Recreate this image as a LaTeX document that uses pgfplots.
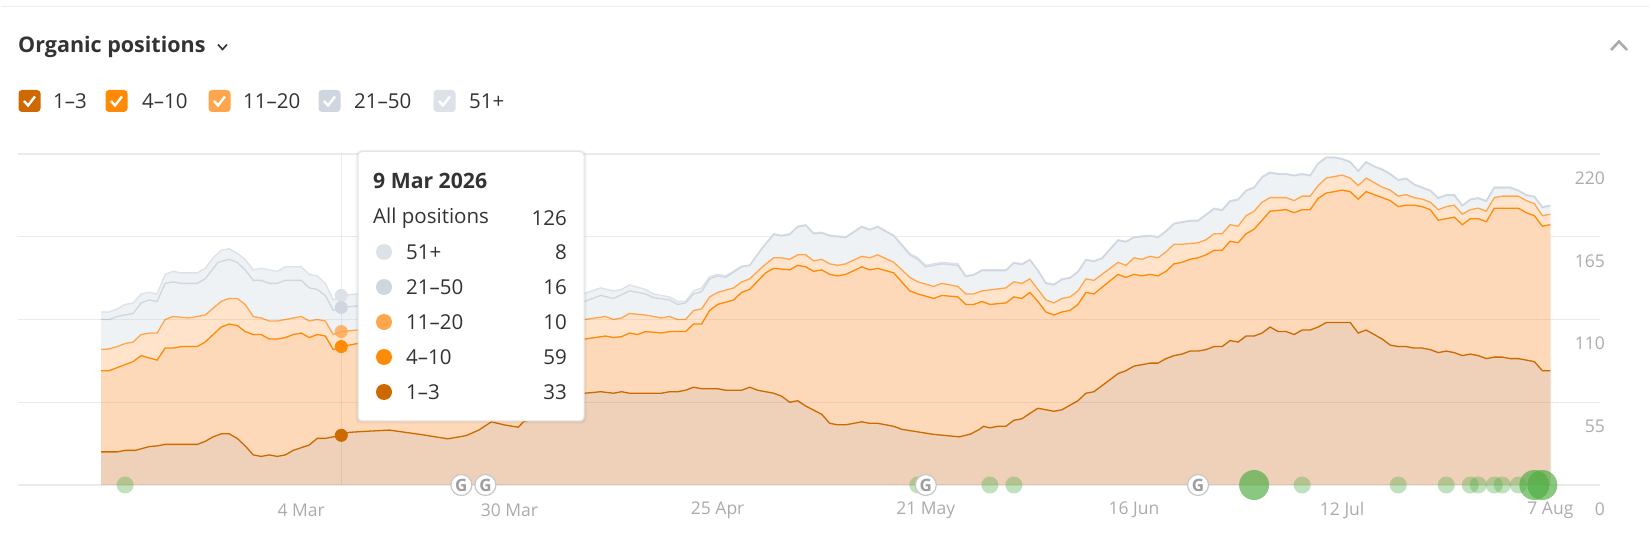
\documentclass[border=0pt]{standalone}
\usepackage{fontspec}
\setmainfont{Open Sans}
\usepackage{pgfplots}
\usepackage{pgfplotstable}
\pgfplotsset{compat=1.18}
\newcommand{\fs}[1]{\fontsize{#1pt}{#1pt}\selectfont}
\definecolor{txt}{HTML}{333333}
\definecolor{tick}{HTML}{ABABAB}
\definecolor{cD}{HTML}{CC6A00}
\definecolor{cM}{HTML}{FF8A05}
\definecolor{cO}{HTML}{FFA64D}
\definecolor{cS}{HTML}{CFD6DF}
\definecolor{cT}{HTML}{DDE1E8}
\definecolor{fT}{HTML}{EEF2F4}
\definecolor{fO}{HTML}{FFE4CB}
\definecolor{fM}{HTML}{FED9B9}
\definecolor{fD}{HTML}{EFD0B9}
\definecolor{gn}{HTML}{4FAE45}
\pgfplotstableread{
day v
0 115
1 115
2 117
3 120
4 121
5 127
6 128
7 127
8 140
9 142
10 141
12 141
13 144
14 151
15 156
16 157
17 154
18 150
19 143
20 144
22 142
23 145
25 145
26 140
27 139
28 134
29 123
30 126
32 127
40 128
50 129
60.4 127.4
62.4 131
64 129
65 130
66 133
68 130
69 127
71 125
72 122
73 122
74 129
75 131
76 138.5
77 140
78 139
80 145.5
81 146
82.6 158
84 167
85 166
86 167
87 172
88 173
89 167.5
90 168
91 166
93 165
95 172
96 170
97 172
99 166
101 154
102 151
103 146
105 148
107 147
108 139
109 140
110 143
113 143
114 148
115 147
116 150
117 143
118 134.5
119 133.5
120 137
121 138
122 142
123 150
124 149
125 151
127 163
128 162
129 165
131 166
132 165
133 169
134 174
135 175
136 176
137 176
138 180
139 184
140 183
141 189
142 190
143 196
144 198
145 205
146 208
147 207
148 207
149 206
150 207
151 206
152 214
153 218
154 218
155 217
156 215
157 209
158 215
159 212
160 210
161 207
162 203
163 204
164 200
165 198
166 196
167 191
168 193
169 193
170 186
171 190
172 191
173 189
174 198
176 198
177 196
178 193
179 192
180 185
181 186
}\tT
\pgfplotstableread{
day v
0 110
1 110
2 112
4 114
5 121
6 123
7 122
8 134
9 135
10 134
12 134
13 137
14.6 148
16 150
17 148
18 143
19 136
20 136
21 134
22 134
23 136
25 136
26 131
27 130
28 126
29 116
30 118
32 119
45 121
60.4 122
62.4 126
64 124
66 129
68 127
69 124.5
71 123
72 120
73 121
74 127
75 128.5
76 137
77 139
78 138
80 145
81 146
82.6 157.5
84 166.5
85 165.5
86 166.5
87 171.5
88 172.5
89 167
90 167.5
91 165.5
93 164.5
95 171.5
96 169.5
97 171.5
99 165.5
101 153
102 150
103 145
105 147
107 146
108 138.5
109 139.5
110 142.5
113 142.5
114 147.5
115 146.5
116 149.5
117 142.5
118 134
119 133
120 136.5
121 137.5
122 141.5
123 149.5
124 148.5
125 150.5
127 162.5
128 161.5
129 164.5
131 165.5
132 164.5
133 168.5
134 173.5
135 174.5
136 175.5
137 175.5
138 179.5
139 183.5
140 182.5
141 188.5
142 189.5
143 195.5
144 197.5
145 204.5
146 207.5
147 206.5
148 206.5
149 205.5
150 206.5
151 205.5
152 213.5
153 217.5
154 217.5
155 216.5
156 214.5
157 208.5
158 214.5
159 211.5
160 209.5
161 206.5
162 202.5
163 203.5
164 199.5
165 197.5
166 195.5
167 190.5
168 192.5
169 192.5
170 185.5
171 189.5
172 190.5
173 188.5
174 197.5
176 197.5
177 195.5
178 192.5
179 191.5
180 184.5
181 185.5
}\tS
\pgfplotstableread{
day v
0 90
1 90.5
2 92
3 94
4 95
5 100
6 101
7 101
8 110
9 112
11 111
13 113
15 122
16 124
17 124
18 120
19 112
20 111
21 109
22 109
23 110
25 112
26 109
27 110
28 109
29 100
30 102
32 103
45 107
60.4 110
62.4 111.5
63 112
64 110
65 111
66 114
68 113
70 111
71 112
72 110
73 110
74 116
75 117
76 125
77 128
79 131
80 135
81 137
82.6 145
84 151
85 151
86 150
87 153
88 153
89 149
90 150
91 147
92 146
93 147
95 152
96 151
97 153
99 148
101 138
102 135
104 132
105 134
107 132
108 127
109 127
110 129
113 131
114 135
115 134
116 137
117 130
118 123
119 121
120 124
121 125
122 129
123 137
124 136
127 148
128 146
129 151
130 150
131 152
132 151
133 155
134 160
135 160
137 161
138 163
139 167
140 167
141 173
142 172
143 179
144 182
145 188
146 191
148 191
149 189
150 192
151 192
152 199
153 204
154 205
155 206
156 204
157 199
158 204
159 201
160 198
161 196
162 192
163 193
164 191
165 190
166 188
167 183
168 185
169 186
170 180
171 183
172 184
173 182
174 191
175 192
177 192
178 189
179 187
180 179
181 180
}\tO
\pgfplotstableread{
day v
0 76
1 76
2 78
4 82
5 86
7 83
8 91
9 91
10 92
12 92
13 95
15 105
16 107
17 106
18 102
19 100
20 100
21 97
22 97
23 98
24 100
25 101
26 98
27 100
28 99
29 90
30 92
32 94
45 96
60.4 97
63 99
64 98
65 98.6
66 101
67 100
68 102
70 101
71 102
73 102
74 107
75 107
76 116
77 120
79 123
80 128
81 130
83 141
84 144
86 143
87 146
88 145
89 142
90 143
91 140
92 139
93 140
95 145
96 143
97 144
99 141
101 129
102 127
104 124
105 126
107 125
108 120
109 120
110 122
111 120
113 121
114 125
115 124
116 128
117 122
118 115
119 113
120 115
121 116
122 120
123 128
124 127
127 140
128 138
129 140
130 139
131 140
132 139
133 142
134 147
135 148
136 150
137 151
138 153
139 156
140 156
141 162
142 161
143 167
144 170
145 176
146 182
148 183
149 181
150 183
151 183
152 190.5
153 194
154 195
155 196
156 195
157 190
158 195
159 193
160 191
161 189
162 185
163 186
164 186
165 185
166 183
167 176
168 177
169 178
170 173
171 177
172 177
173 175
174 184
177 184
178 181
179 179
180 172
181 173
}\tM
\pgfplotstableread{
day v
0 22
2 22
3 23
4.25 23
6 25.5
7 26
8 27
12 27
13 29
14 32
15 34
16 34
17 31
18 26
19 20
20 19
21 20
22 19
23 20
24 23
26 26.6
27 31
28 31
29 32
30 33
31 35
32.8 35.6
36 36.5
40 33.5
43.3 30.7
45.6 32.8
47.2 36.6
48.75 42
50.3 40
52.1 38.4
52.75 42
54 44
55 48
56 52
57 57
58 60
59 61
60.4 61
62.4 62
64 61
65 62
66 61
70 61
71 62
72 62
73 63
74 65
75 64
77 64
78 63
80 63
81 65
82 63
84 61
85 59
86 55
87 56
88 52.5
90 47
91 41
92 40
93 40
95 42
96 41
97 41
99 39
100 37
103.9 33.7
107.2 32
108.6 33.9
109.7 37
110.2 39
111 38
112 39
113 39
114 43
115 44
116 47.6
117 51
119 49
120 50
121 53
122 56
123 61
124 62
127 74
128 76
129 79
131 81
132 81
133 84
134 86
135 87
136 89
137 89
138 90
139 92
140 92
141 96
142 95
143 99
144 99
145 101
146 105
147 102
148 102
149 100
150 103
151 103
152 105
153 108
156 108
157 101
158 103
159 100
160 97
161 93
162 92
163 92
164 91
165 91
166 90
167 88
168 89
169 88
170 86
171 87
172 86
173 84
174 85
175 85
176 84
177 84
178 83
179 82
180 76
181 76
}\tD
\begin{document}
\begin{tikzpicture}
\begin{scope}[x=1pt,y=1pt]
\path (0,0) rectangle (1650,536);
\draw[color=black!7,line width=1.5pt] (1,529.5) -- (1649,529.5);
\node[anchor=west,inner sep=0pt,text=txt] at (18,489.5) {\fs{21.5}\bfseries Organic positions};
\draw[txt,line width=1.6pt] (218,491.5) -- (222.5,486.5) -- (227,491.5);
\draw[tick,line width=2.6pt] (1611,486) -- (1619,494.5) -- (1627,486);
\foreach \xx/\cc/\lx/\lab in {18.5/cD/53/1--3, 105.5/cM/142/4--10, 208.5/cO/243/11--20, 318.5/cS/354/21--50, 433.5/cT/469/51+}{
  \fill[\cc,rounded corners=3.5pt] (\xx,424) rectangle ++(22,22);
  \draw[white,line width=2.4pt] (\xx+5.5,435) -- (\xx+9.5,430.5) -- (\xx+16.5,439.5);
  \node[anchor=west,inner sep=0pt,text=txt] at (\lx,435) {\fs{20.5}\lab};
}
\end{scope}
\begin{axis}[
  at={(18pt,51pt)},anchor=south west,
  scale only axis,width=1582pt,height=331pt,
  xmin=-10.375,xmax=187.2,ymin=0,ymax=220,
  clip mode=individual,
  axis line style={draw=none},major tick length=0pt,
  ytick={0,55,110,165,220},yticklabels={0,55,110,165,220},
  yticklabel pos=right,
  ymajorgrids,grid style={color=black!8,line width=1.4pt},
  xtick={25,51,77,103,129,155,181},
  xticklabels={4 Mar,30 Mar,25 Apr,21 May,16 Jun,12 Jul,7 Aug},
  tick label style={font=\fs{17.5},text=tick,inner sep=0pt},
  xticklabel style={anchor=center,yshift=-25pt},
  yticklabel style={anchor=east,xshift=5pt,yshift=-24pt},
]
\addplot[fill=fT,draw=none,forget plot] table[x=day,y=v]{\tT} \closedcycle;
\addplot[fill=fO,draw=none,forget plot] table[x=day,y=v]{\tO} \closedcycle;
\addplot[fill=fM,draw=none,forget plot] table[x=day,y=v]{\tM} \closedcycle;
\addplot[fill=fD,draw=none,forget plot] table[x=day,y=v]{\tD} \closedcycle;
\addplot[cT,line width=1.3pt] table[x=day,y=v]{\tT};
\addplot[cS,line width=1.3pt] table[x=day,y=v]{\tS};
\addplot[cO,line width=1.3pt] table[x=day,y=v]{\tO};
\addplot[cM,line width=1.3pt] table[x=day,y=v]{\tM};
\addplot[cD,line width=1.3pt] table[x=day,y=v]{\tD};
\addplot[black,opacity=0.06,line width=1.4pt] coordinates {(0,55)(181,55)};
\addplot[black,opacity=0.06,line width=1.4pt] coordinates {(0,110)(181,110)};
\addplot[black,opacity=0.06,line width=1.4pt] coordinates {(0,0)(181,0)};
\addplot[black,opacity=0.065,line width=1.2pt] coordinates {(30,0)(30,220)};
\addplot[only marks,mark=*,mark size=6.5pt,mark options={draw opacity=0,fill=cT}] coordinates {(30,126)};
\addplot[only marks,mark=*,mark size=6.5pt,mark options={draw opacity=0,fill=cS}] coordinates {(30,118)};
\addplot[only marks,mark=*,mark size=6.5pt,mark options={draw opacity=0,fill=cO,fill opacity=.8}] coordinates {(30,102)};
\addplot[only marks,mark=*,mark size=6.5pt,mark options={draw opacity=0,fill=cM}] coordinates {(30,92)};
\addplot[only marks,mark=*,mark size=6.5pt,mark options={draw opacity=0,fill=cD}] coordinates {(30,33)};
\addplot[only marks,mark=*,mark size=8.5pt,mark options={draw opacity=0,fill=gn,fill opacity=.36}]
  coordinates {(3,0)(102,0)(111,0)(114,0)(150,0)(162,0)(168,0)(171,0)(172,0)(174,0)(175,0)(177,0)};
\addplot[only marks,mark=*,mark size=15pt,mark options={draw opacity=0,fill=gn,fill opacity=.68}]
  coordinates {(144,0)(179,0)(180,0)};
\addplot[only marks,mark=*,mark size=10.5pt,
  mark options={draw=black!22,line width=1.2pt,fill=white},
  nodes near coords={\textbf{G}},
  every node near coord/.style={anchor=center,inner sep=0pt,text=black!38,font=\fs{17}}]
  coordinates {(45,0)(48,0)(103,0)(137,0)};
\end{axis}
\begin{scope}[x=1pt,y=1pt]
\fill[black,opacity=.05,rounded corners=5pt] (355.5,112.5) rectangle (586.5,386);
\fill[white,draw=black!11,line width=1pt,rounded corners=4pt] (358,115) rectangle (584,384.5);
\node[anchor=west,inner sep=0pt,text=txt] at (373,355) {\fs{21.2}\bfseries 9 Mar 2026};
\node[anchor=west,inner sep=0pt,text=txt] at (373,318) {\fs{20.5}All positions};
\node[anchor=east,inner sep=0pt,text=txt] at (567,318) {\fs{20.5}126};
\foreach \yy/\cc/\lab/\val in {284/cT/51+/8, 249/cS/21--50/16, 214/cO/11--20/10, 179/cM/4--10/59, 144/cD/1--3/33}{
  \fill[\cc] (384,\yy) circle (8);
  \node[anchor=west,inner sep=0pt,text=txt] at (406,\yy) {\fs{20.5}\lab};
  \node[anchor=east,inner sep=0pt,text=txt] at (567,\yy) {\fs{20.5}\val};
}
\end{scope}
\end{tikzpicture}
\end{document}
